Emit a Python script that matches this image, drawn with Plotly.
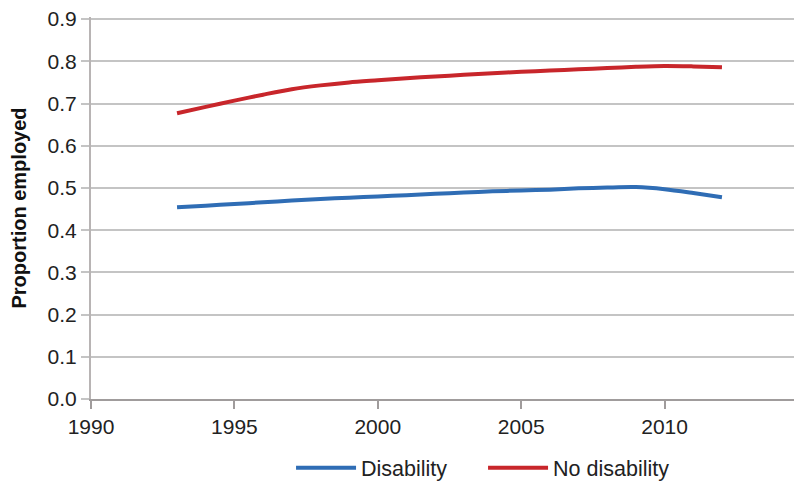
import plotly.graph_objects as go

years = list(range(1993, 2013))
disability = [0.454, 0.458, 0.462, 0.466, 0.470, 0.474, 0.477, 0.480, 0.483, 0.486,
              0.489, 0.492, 0.494, 0.496, 0.499, 0.501, 0.502, 0.497, 0.488, 0.478]
no_disability = [0.677, 0.692, 0.707, 0.721, 0.734, 0.743, 0.750, 0.755, 0.760, 0.764,
                 0.768, 0.772, 0.775, 0.778, 0.781, 0.784, 0.787, 0.789, 0.788, 0.786]
x_ticks = [1990, 1995, 2000, 2005, 2010]
y_ticks = [0.0, 0.1, 0.2, 0.3, 0.4, 0.5, 0.6, 0.7, 0.8, 0.9]

fig = go.Figure()
fig.add_trace(go.Scatter(x=years, y=disability, mode="lines", name="Disability",
                         line=dict(color="#2f6db5", width=4, shape="spline", smoothing=0.8)))
fig.add_trace(go.Scatter(x=years, y=no_disability, mode="lines", name="No disability",
                         line=dict(color="#c8262b", width=4, shape="spline", smoothing=0.8)))

font = "Liberation Sans, Arial, sans-serif"
fig.update_layout(
    width=802, height=486,
    margin=dict(l=83, r=2, t=9, b=95, autoexpand=False),
    paper_bgcolor="white", plot_bgcolor="white",
    font=dict(family=font, size=21, color="#222222"),
    showlegend=True,
    legend=dict(orientation="h", x=0.279, xanchor="left", y=-0.18, yanchor="middle",
                font=dict(size=21.5, color="#222222"), itemwidth=60, entrywidth=117,
                traceorder="normal"),
)
fig.update_xaxes(range=[1990, 2015], tickvals=x_ticks, ticktext=[str(v) for v in x_ticks],
                 showgrid=False, zeroline=False, showline=True, linecolor="#a09c9c", linewidth=2,
                 ticks="outside", ticklen=8, tickcolor="#a09c9c", tickwidth=2, automargin=False,
                 tickfont=dict(size=21, family=font, color="#222222"))
fig.update_yaxes(range=[0, 0.905], tickvals=y_ticks, ticktext=[f"{v:.1f}" for v in y_ticks],
                 showgrid=True, gridcolor="#c4c4c4", gridwidth=2, zeroline=False,
                 showline=True, linecolor="#b8b4b4", linewidth=2, automargin=False,
                 ticks="outside", ticklen=8, tickcolor="#c4c4c4", tickwidth=2,
                 ticklabeloverflow="allow",
                 tickfont=dict(size=21, family=font, color="#222222"),
                 title=dict(text="<b>Proportion employed</b>", font=dict(size=20, family=font, color="#111111"),
                            standoff=27))
fig.write_html("out.html")
